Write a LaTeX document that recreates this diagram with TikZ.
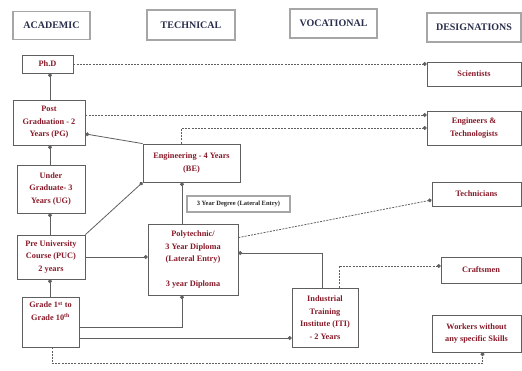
\documentclass[tikz,border=0pt]{standalone}
\usepackage{fontspec}
\setmainfont{Liberation Serif}
\usetikzlibrary{arrows.meta,calc}
\definecolor{boxred}{RGB}{135,25,40}
\definecolor{headblue}{RGB}{40,45,75}
\definecolor{linegray}{RGB}{95,95,95}
\begin{document}
\begin{tikzpicture}[x=1pt,y=-1pt,
  box/.style={draw=linegray,line width=0.8pt,rectangle,inner sep=1pt,align=center,
    font=\fontsize{8.3}{12.5}\selectfont\bfseries,text=boxred},
  headbox/.style={draw=gray!70,line width=1.6pt,rectangle,inner sep=1pt,
    font=\fontsize{10}{12}\selectfont\bfseries,text=headblue},
  latbox/.style={draw=gray!70,line width=1.2pt,rectangle,inner sep=1pt,
    font=\fontsize{6.5}{7.5}\selectfont\bfseries,text=black!85},
  conn/.style={draw=linegray,line width=0.8pt,-{Circle[length=3.8pt]}},
  dconn/.style={draw=linegray,line width=0.8pt,dash pattern=on 2pt off 1.2pt,-{Circle[length=3.8pt]}},
  labtext/.style={font=\fontsize{8.3}{12.5}\selectfont\bfseries,text=boxred,align=center,inner sep=0pt}
]
\useasboundingbox (0,0) rectangle (522,371);
% headers
\node[headbox,minimum width=77pt,minimum height=28pt] (hA) at (51.5,25.5) {ACADEMIC};
\node[headbox,minimum width=88pt,minimum height=30pt] (hT) at (191,25) {TECHNICAL};
\node[headbox,minimum width=87pt,minimum height=29pt] (hV) at (333.5,23.5) {VOCATIONAL};
\node[headbox,minimum width=94pt,minimum height=29pt] (hD) at (474,27.5) {DESIGNATIONS};
% academic column
\node[box,minimum width=51pt,minimum height=18pt] (phd) at (47.5,64) {Ph.D};
\node[box,minimum width=72pt,minimum height=45pt] (pg) at (49,122.5) {Post\\Graduation - 2\\Years (PG)};
\node[box,minimum width=68pt,minimum height=48pt] (ug) at (51,189) {Under\\Graduate- 3\\Years (UG)};
\node[box,minimum width=68pt,minimum height=44pt] (puc) at (51,257) {Pre University\\Course (PUC)\\2 years};
\node[box,minimum width=57pt,minimum height=50pt,
  label={[labtext,anchor=north,yshift=-5pt]north:{Grade 1\textsuperscript{st} to\\Grade 10\textsuperscript{th}}}] (grade) at (50.5,322) {};
% technical column
\node[box,minimum width=97pt,minimum height=38pt] (eng) at (191.5,163) {Engineering - 4 Years\\(BE)};
\node[latbox,minimum width=103pt,minimum height=16pt] (lat) at (238.5,204) {3 Year Degree (Lateral Entry)};
\node[box,minimum width=90pt,minimum height=71pt] (poly) at (193,259.5) {Polytechnic/\\3 Year Diploma\\(Lateral Entry)\\[12pt]3 year Diploma};
% vocational
\node[box,minimum width=66pt,minimum height=59pt] (iti) at (325,317.5) {Industrial\\Training\\Institute (ITI)\\- 2 Years};
% designations
\node[box,minimum width=94pt,minimum height=24pt] (sci) at (474,74) {Scientists};
\node[box,minimum width=94pt,minimum height=34pt] (engs) at (474,128) {Engineers \&\\Technologists};
\node[box,minimum width=89pt,minimum height=24pt] (tech) at (476.5,194) {Technicians};
\node[box,minimum width=80pt,minimum height=26pt] (craft) at (481,270) {Craftsmen};
\node[box,minimum width=89pt,minimum height=37pt] (work) at (476.5,333.5) {Workers without\\any specific Skills};
% coordinates
\coordinate (colx) at (50,0);
% solid connectors
\draw[conn] (colx |- pg.north) -- (colx |- phd.south);
\draw[conn] (colx |- ug.north) -- (colx |- pg.south);
\draw[conn] (colx |- puc.north) -- (colx |- ug.south);
\draw[conn] (colx |- grade.north) -- (colx |- puc.south);
\draw[conn] (puc.north east) -- (eng.south west);
\coordinate (pgin) at ($(pg.south east)!0.25!(pg.north east)$);
\draw[conn] (eng.north west) -- (pgin);
\draw[conn] (puc.east) -- (puc.east -| poly.west);
\coordinate (polyb) at ([xshift=-11pt]poly.south);
\coordinate (polyt) at ([xshift=-11pt]poly.north);
\draw[conn] ([yshift=-5pt]grade.east) -| (polyb);
\draw[conn] ([yshift=-16pt]grade.east) -- ([yshift=-16pt]grade.east -| iti.west);
\draw[conn] ([xshift=-3pt]iti.north) |- ([yshift=6.5pt]poly.east);
\draw[conn] (polyt) -- (polyt |- eng.south);
% dashed connectors
\draw[dconn] (phd.east) -- (phd.east -| sci.west);
\draw[dconn] ([yshift=7.5pt]pg.east) -- ([yshift=7.5pt]pg.east -| engs.west);
\draw[dconn] ([xshift=-10pt]eng.north) |- (engs.west);
\draw[dconn] ([yshift=-14pt]poly.north east) -- ([yshift=-6pt]tech.west);
\draw[dconn] ([xshift=14pt]iti.north) |- ([yshift=4pt]craft.west);
\draw[dconn] ([xshift=1.5pt]grade.south) -- ++(0,16) -| ([xshift=6pt]work.south);
\end{tikzpicture}
\end{document}
